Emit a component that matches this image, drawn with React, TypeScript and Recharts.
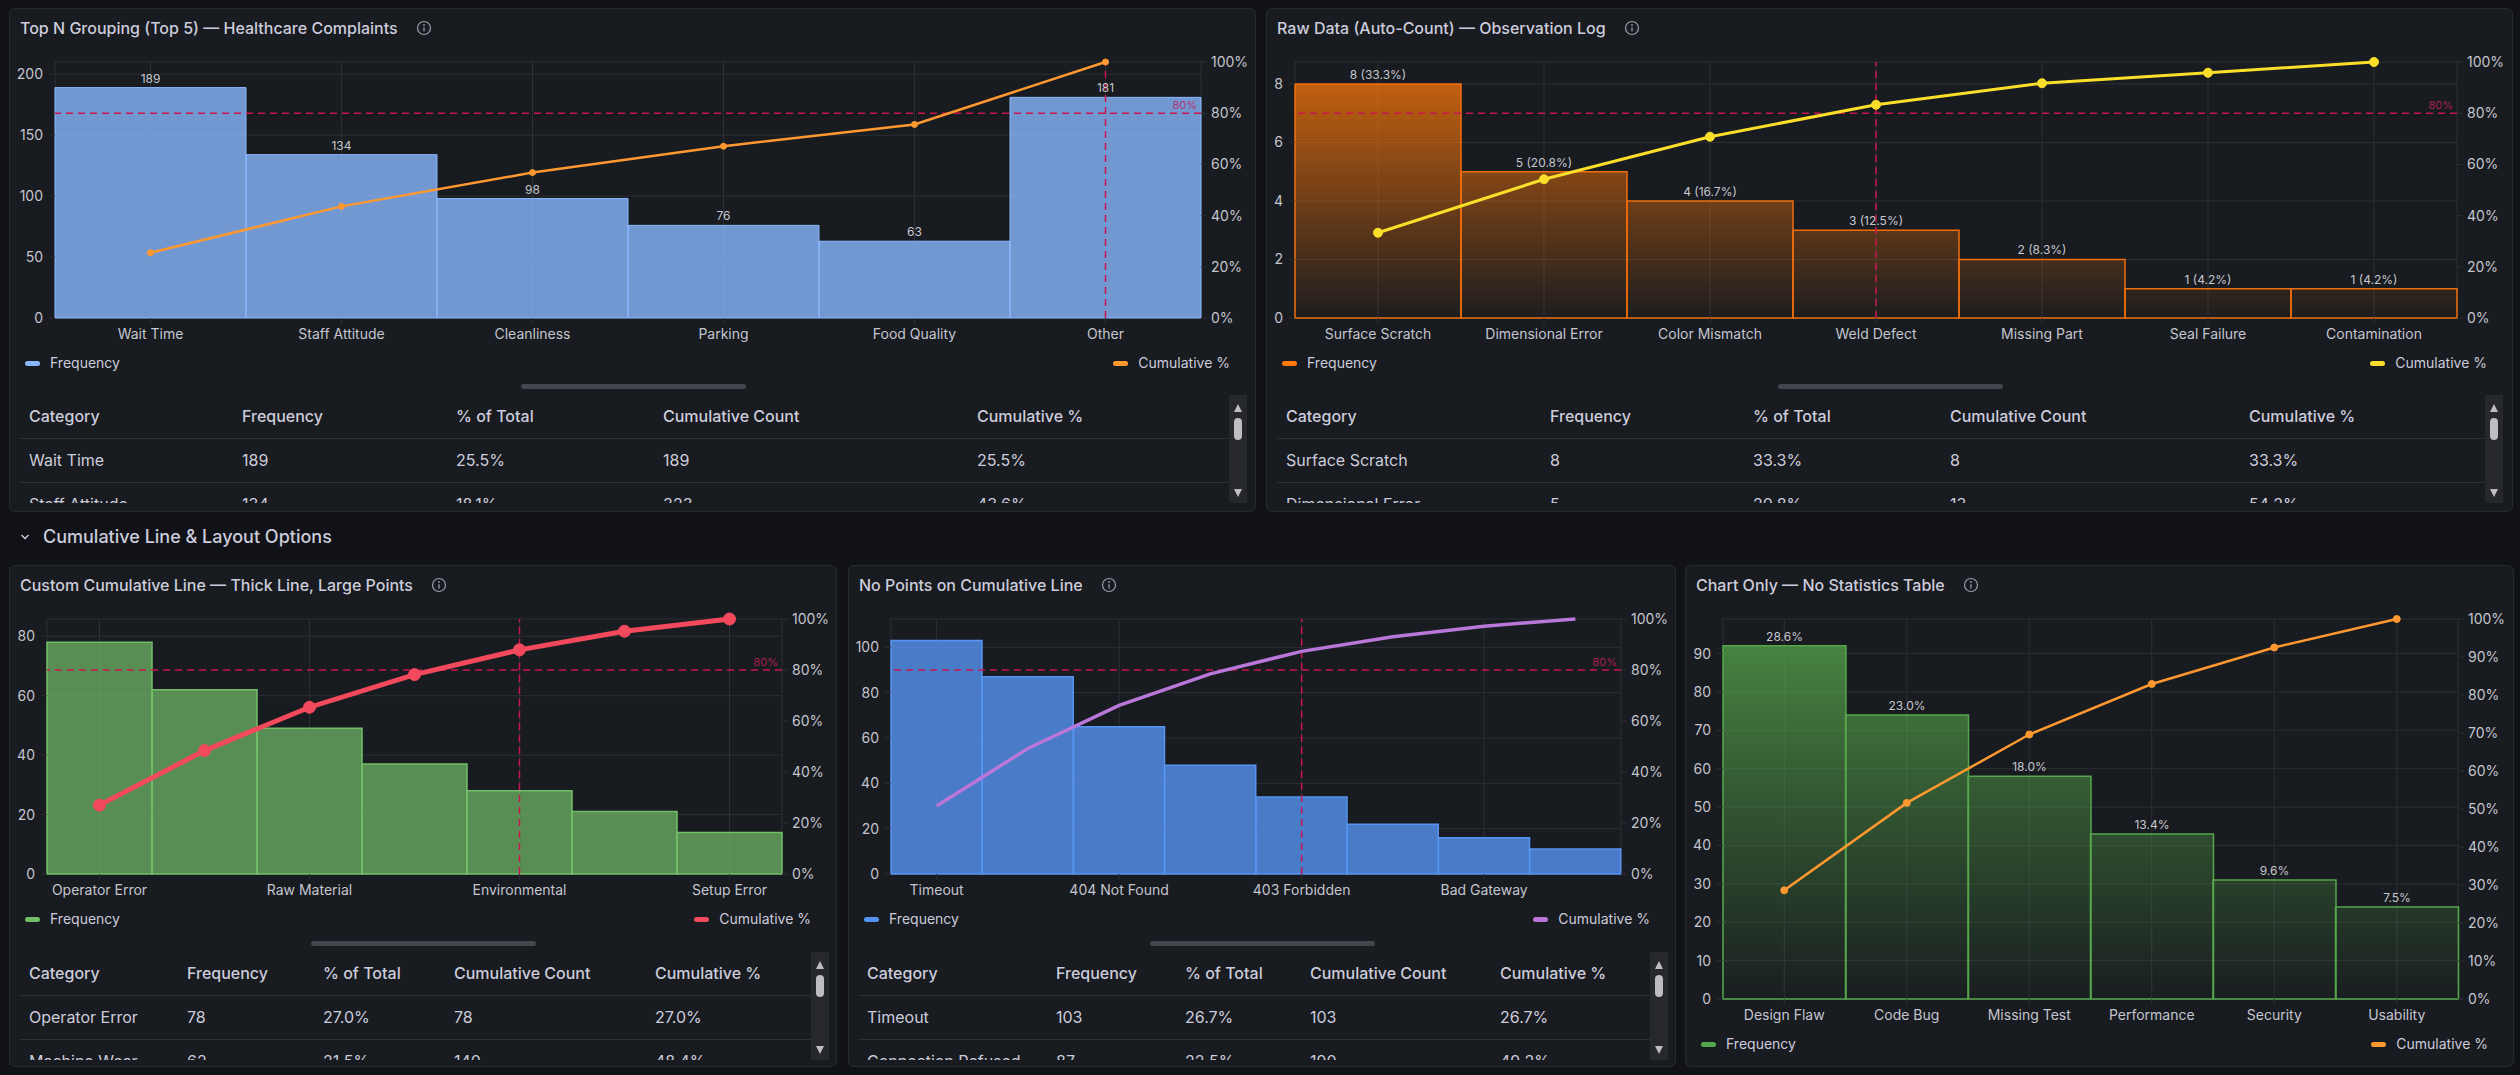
import React from "react"
import { ComposedChart, Bar, Line, XAxis, YAxis, CartesianGrid, ReferenceLine, LabelList } from "recharts"

// --- data ---
const healthCategories = ["Wait Time", "Staff Attitude", "Cleanliness", "Parking", "Food Quality", "Other"]
const healthFrequency = [189, 134, 98, 76, 63, 181]
const healthCumulative = [25.5, 43.6, 56.8, 67.1, 75.6, 100]
const healthTicks = [0, 50, 100, 150, 200]

const defectCategories = ["Surface Scratch", "Dimensional Error", "Color Mismatch", "Weld Defect", "Missing Part", "Seal Failure", "Contamination"]
const defectFrequency = [8, 5, 4, 3, 2, 1, 1]
const defectCumulative = [33.3, 54.2, 70.8, 83.3, 91.7, 95.8, 100]
const defectTicks = [0, 2, 4, 6, 8]

const causeCategories = ["Operator Error", "Machine Wear", "Raw Material", "Calibration", "Environmental", "Maintenance", "Setup Error"]
const causeFrequency = [78, 62, 49, 37, 28, 21, 14]
const causeCumulative = [27.0, 48.4, 65.4, 78.2, 87.9, 95.2, 100]
const causeTicks = [0, 20, 40, 60, 80]

const errorCategories = ["Timeout", "Connection Refused", "404 Not Found", "500 Server Error", "403 Forbidden", "DNS Failure", "Bad Gateway", "SSL Handshake"]
const errorFrequency = [103, 87, 65, 48, 34, 22, 16, 11]
const errorCumulative = [26.7, 49.2, 66.1, 78.5, 87.3, 93.0, 97.2, 100]
const errorTicks = [0, 20, 40, 60, 80, 100]

const bugCategories = ["Design Flaw", "Code Bug", "Missing Test", "Performance", "Security", "Usability"]
const bugFrequency = [92, 74, 58, 43, 31, 24]
const bugCumulative = [28.6, 51.6, 69.6, 82.9, 92.5, 100]
const bugTicks = [0, 10, 20, 30, 40, 50, 60, 70, 80, 90]

const pctTicks = [0, 20, 40, 60, 80, 100]
const pctTicksFine = [0, 10, 20, 30, 40, 50, 60, 70, 80, 90, 100]

const tableHeaders = ["Category", "Frequency", "% of Total", "Cumulative Count", "Cumulative %"]
// only the rows that show through the table's scroll window
const visibleRows = 2

// --- theme ---
const TEXT = "#ccccdc"
const TICK = "#c4c5cf"
const GRID = "#2c2f35"
const PANEL_BG = "#181b1f"
const PANEL_BORDER = "#272a31"
const REF = "#c8174f"

type LabelMode = "none" | "value" | "valuePct" | "pct"

type ParetoProps = {
  id: string
  categories: string[]
  frequency: number[]
  cumulative: number[]
  freqTicks: number[]
  freqMax: number
  rightTicks: number[]
  width: number
  height: number
  top: number
  leftWidth: number
  rightWidth: number
  barColor: string
  barOpacity: number
  barStroke: string
  barStrokeWidth: number
  gradient?: boolean
  lineColor: string
  lineWidth: number
  dotR: number
  labels: LabelMode
  interval: number
  refs: boolean
}

function ParetoChart(p: ParetoProps) {
  const total = p.frequency.reduce((a, b) => a + b, 0)
  const data = p.categories.map((name, i) => {
    const pct = ((p.frequency[i] / total) * 100).toFixed(1)
    let label = ""
    if (p.labels === "value") label = String(p.frequency[i])
    if (p.labels === "valuePct") label = `${p.frequency[i]} (${pct}%)`
    if (p.labels === "pct") label = `${pct}%`
    return { name, freq: p.frequency[i], cum: p.cumulative[i], label }
  })
  const cross = p.categories[p.cumulative.findIndex((c) => c >= 80)]
  const plotBottom = p.height - 30
  const fill = p.gradient ? `url(#${p.id}-grad)` : p.barColor
  const tick = { fill: TICK, fontSize: 14 }

  return (
    <ComposedChart
      width={p.width}
      height={p.height}
      data={data}
      margin={{ top: p.top, right: 0, bottom: 0, left: 0 }}
      barCategoryGap={0}
      barGap={0}
    >
      <defs>
        <linearGradient id={`${p.id}-grad`} gradientUnits="userSpaceOnUse" x1="0" y1={p.top} x2="0" y2={plotBottom}>
          <stop offset="0%" stopColor={p.barColor} stopOpacity={0.8} />
          <stop offset="100%" stopColor={p.barColor} stopOpacity={0.02} />
        </linearGradient>
      </defs>
      <CartesianGrid yAxisId="left" stroke={GRID} />
      <XAxis
        dataKey="name"
        interval={p.interval}
        height={30}
        tick={tick}
        tickSize={6}
        tickMargin={5}
        axisLine={false}
        tickLine={{ stroke: GRID }}
      />
      <YAxis
        yAxisId="left"
        width={p.leftWidth}
        domain={[0, p.freqMax]}
        ticks={p.freqTicks}
        tick={tick}
        tickSize={6}
        tickMargin={6}
        axisLine={false}
        tickLine={{ stroke: GRID }}
      />
      <YAxis
        yAxisId="right"
        orientation="right"
        width={p.rightWidth}
        domain={[0, 100]}
        ticks={p.rightTicks}
        tickFormatter={(v) => `${v}%`}
        tick={tick}
        tickSize={6}
        tickMargin={4}
        axisLine={false}
        tickLine={{ stroke: GRID }}
      />
      <Bar
        yAxisId="left"
        dataKey="freq"
        fill={fill}
        fillOpacity={p.gradient ? 1 : p.barOpacity}
        stroke={p.barStroke}
        strokeWidth={p.barStrokeWidth}
        isAnimationActive={false}
      >
        {p.labels !== "none" && (
          <LabelList dataKey="label" position="top" offset={5} fill="#c6c7d0" fontSize={12} />
        )}
      </Bar>
      {p.refs && (
        <ReferenceLine
          yAxisId="right"
          y={80}
          stroke={REF}
          strokeWidth={1.5}
          strokeDasharray="7 5"
          label={{ value: "80%", position: "insideBottomRight", offset: 4, fill: "#c0205e", fillOpacity: 0.85, fontSize: 11 }}
        />
      )}
      {p.refs && (
        <ReferenceLine yAxisId="left" x={cross} stroke={REF} strokeWidth={1.5} strokeDasharray="7 5" />
      )}
      <Line
        yAxisId="right"
        type="linear"
        dataKey="cum"
        stroke={p.lineColor}
        strokeWidth={p.lineWidth}
        dot={p.dotR > 0 ? { r: p.dotR, fill: p.lineColor, stroke: p.lineColor, strokeWidth: 1 } : false}
        activeDot={false}
        isAnimationActive={false}
      />
    </ComposedChart>
  )
}

function InfoIcon() {
  return (
    <svg width="16" height="16" viewBox="0 0 16 16" style={{ marginLeft: 18 }}>
      <circle cx="8" cy="8" r="6.5" fill="none" stroke="#9a9aa8" strokeWidth="1.2" />
      <circle cx="8" cy="5" r="0.9" fill="#9a9aa8" />
      <line x1="8" y1="7.2" x2="8" y2="11.4" stroke="#9a9aa8" strokeWidth="1.3" />
    </svg>
  )
}

function Legend({ y, barColor, lineColor }: { y: number; barColor: string; lineColor: string }) {
  const item = (color: string, text: string) => (
    <div style={{ display: "flex", alignItems: "center", fontSize: 14, color: TEXT }}>
      <span style={{ width: 15, height: 5, borderRadius: 3, background: color, marginRight: 10 }} />
      {text}
    </div>
  )
  return (
    <>
      <div style={{ position: "absolute", left: 15, top: y - 9, lineHeight: "18px" }}>{item(barColor, "Frequency")}</div>
      <div style={{ position: "absolute", right: 25, top: y - 9, lineHeight: "18px" }}>{item(lineColor, "Cumulative %")}</div>
    </>
  )
}

function StatsTable({
  left,
  width,
  categories,
  frequency,
  cumulative,
  cols,
}: {
  left: number
  width: number
  categories: string[]
  frequency: number[]
  cumulative: number[]
  cols: number[]
}) {
  const total = frequency.reduce((a, b) => a + b, 0)
  let running = 0
  const rows = categories.map((c, i) => {
    running += frequency[i]
    return [c, String(frequency[i]), `${((frequency[i] / total) * 100).toFixed(1)}%`, String(running), `${cumulative[i].toFixed(1)}%`]
  })
  const cell: React.CSSProperties = { paddingLeft: 9, textAlign: "left", whiteSpace: "nowrap", borderBottom: `1px solid ${GRID}` }
  return (
    <>
      {/* drag handle */}
      <div
        style={{
          position: "absolute",
          left: "50%",
          marginLeft: -112,
          top: 375,
          width: 225,
          height: 5,
          borderRadius: 3,
          background: "#43464d",
        }}
      />
      <div style={{ position: "absolute", left, top: 386, width, height: 108, overflow: "hidden" }}>
        <table style={{ borderCollapse: "collapse", tableLayout: "fixed", width: cols.reduce((a, b) => a + b, 0), fontSize: 16, color: TEXT }}>
          <colgroup>
            {cols.map((w, i) => (
              <col key={i} style={{ width: w }} />
            ))}
          </colgroup>
          <thead>
            <tr style={{ height: 43 }}>
              {tableHeaders.map((h) => (
                <th key={h} style={{ ...cell, fontWeight: 500 }}>
                  {h}
                </th>
              ))}
            </tr>
          </thead>
          <tbody>
            {rows.slice(0, visibleRows).map((r, i) => (
              <tr key={i} style={{ height: 44 }}>
                {r.map((v, j) => (
                  <td key={j} style={cell}>
                    {v}
                  </td>
                ))}
              </tr>
            ))}
          </tbody>
        </table>
      </div>
      {/* vertical scrollbar */}
      <div style={{ position: "absolute", left: left + width, top: 386, width: 18, height: 108, background: "#26282d" }}>
        <svg width="18" height="108" style={{ display: "block" }}>
          <polygon points="9,9 5,17 13,17" fill="#bdbdc2" />
          <rect x="5" y="23" width="8" height="22" rx="4" fill="#bdbdc2" />
          <polygon points="9,102 5,94 13,94" fill="#bdbdc2" />
        </svg>
      </div>
    </>
  )
}

function Panel({
  left,
  top,
  width,
  height,
  title,
  children,
}: {
  left: number
  top: number
  width: number
  height: number
  title: string
  children: React.ReactNode
}) {
  return (
    <div
      style={{
        position: "absolute",
        left,
        top,
        width,
        height,
        boxSizing: "border-box",
        background: PANEL_BG,
        border: `1px solid ${PANEL_BORDER}`,
        borderRadius: 6,
        overflow: "hidden",
      }}
    >
      <div
        style={{
          position: "absolute",
          left: 10,
          top: 8,
          height: 22,
          display: "flex",
          alignItems: "center",
          fontSize: 16,
          fontWeight: 500,
          color: TEXT,
          whiteSpace: "nowrap",
        }}
      >
        {title}
        <InfoIcon />
      </div>
      {children}
    </div>
  )
}

function ChartBox({ children }: { children: React.ReactNode }) {
  return <div style={{ position: "absolute", left: -1, top: 39 }}>{children}</div>
}

export default function App() {
  return (
    <div
      style={{
        position: "relative",
        width: 2520,
        height: 1075,
        background: "#111217",
        fontFamily: "Inter, 'Noto Sans', sans-serif",
        overflow: "hidden",
      }}
    >
      <style>{"html,body{margin:0;padding:0;background:#111217;}"}</style>

      <Panel left={9} top={8} width={1247} height={504} title="Top N Grouping (Top 5) — Healthcare Complaints">
        <ChartBox>
          <ParetoChart
            id="c1"
            categories={healthCategories}
            frequency={healthFrequency}
            cumulative={healthCumulative}
            freqTicks={healthTicks}
            freqMax={210}
            rightTicks={pctTicks}
            width={1247}
            height={300}
            top={14}
            leftWidth={46}
            rightWidth={55}
            barColor="#8ab8ff"
            barOpacity={0.8}
            barStroke="#8ab8ff"
            barStrokeWidth={1}
            lineColor="#ff9830"
            lineWidth={2.5}
            dotR={3}
            labels="value"
            interval={0}
            refs
          />
        </ChartBox>
        <Legend y={354} barColor="#8ab8ff" lineColor="#ff9830" />
        <StatsTable
          left={10}
          width={1209}
          categories={healthCategories}
          frequency={healthFrequency}
          cumulative={healthCumulative}
          cols={[213, 214, 207, 314, 261]}
        />
      </Panel>

      <Panel left={1266} top={8} width={1247} height={504} title="Raw Data (Auto-Count) — Observation Log">
        <ChartBox>
          <ParetoChart
            id="c2"
            categories={defectCategories}
            frequency={defectFrequency}
            cumulative={defectCumulative}
            freqTicks={defectTicks}
            freqMax={8.75}
            rightTicks={pctTicks}
            width={1247}
            height={300}
            top={14}
            leftWidth={29}
            rightWidth={56}
            barColor="#ff780a"
            barOpacity={1}
            barStroke="#f06e0c"
            barStrokeWidth={1.5}
            gradient
            lineColor="#fade2a"
            lineWidth={3}
            dotR={4.5}
            labels="valuePct"
            interval={0}
            refs
          />
        </ChartBox>
        <Legend y={354} barColor="#ff780a" lineColor="#fade2a" />
        <StatsTable
          left={10}
          width={1208}
          categories={defectCategories}
          frequency={defectFrequency}
          cumulative={defectCumulative}
          cols={[264, 203, 197, 299, 245]}
        />
      </Panel>

      <div style={{ position: "absolute", left: 20, top: 526, display: "flex", alignItems: "center", color: TEXT }}>
        <svg width="10" height="10" viewBox="0 0 10 10">
          <polyline points="1.5,3 5,6.5 8.5,3" fill="none" stroke={TEXT} strokeWidth="1.4" />
        </svg>
        <span style={{ marginLeft: 13, fontSize: 18, fontWeight: 500, lineHeight: "22px" }}>Cumulative Line &amp; Layout Options</span>
      </div>

      <Panel left={9} top={565} width={828} height={502} title="Custom Cumulative Line — Thick Line, Large Points">
        <ChartBox>
          <ParetoChart
            id="c3"
            categories={causeCategories}
            frequency={causeFrequency}
            cumulative={causeCumulative}
            freqTicks={causeTicks}
            freqMax={85.8}
            rightTicks={pctTicks}
            width={828}
            height={299}
            top={14}
            leftWidth={38}
            rightWidth={55}
            barColor="#73bf69"
            barOpacity={0.7}
            barStroke="#73bf69"
            barStrokeWidth={1.5}
            lineColor="#f2495c"
            lineWidth={5}
            dotR={6}
            labels="none"
            interval={1}
            refs
          />
        </ChartBox>
        <Legend y={353} barColor="#73bf69" lineColor="#f2495c" />
        <StatsTable
          left={10}
          width={791}
          categories={causeCategories}
          frequency={causeFrequency}
          cumulative={causeCumulative}
          cols={[158, 136, 131, 201, 165]}
        />
      </Panel>

      <Panel left={848} top={565} width={828} height={502} title="No Points on Cumulative Line">
        <ChartBox>
          <ParetoChart
            id="c4"
            categories={errorCategories}
            frequency={errorFrequency}
            cumulative={errorCumulative}
            freqTicks={errorTicks}
            freqMax={112.5}
            rightTicks={pctTicks}
            width={828}
            height={299}
            top={14}
            leftWidth={43}
            rightWidth={55}
            barColor="#5794f2"
            barOpacity={0.8}
            barStroke="#5794f2"
            barStrokeWidth={1.5}
            lineColor="#b877d9"
            lineWidth={3.5}
            dotR={0}
            labels="none"
            interval={1}
            refs
          />
        </ChartBox>
        <Legend y={353} barColor="#5794f2" lineColor="#b877d9" />
        <StatsTable
          left={9}
          width={792}
          categories={errorCategories}
          frequency={errorFrequency}
          cumulative={errorCumulative}
          cols={[189, 129, 125, 190, 159]}
        />
      </Panel>

      <Panel left={1685} top={565} width={829} height={502} title="Chart Only — No Statistics Table">
        <ChartBox>
          <ParetoChart
            id="c5"
            categories={bugCategories}
            frequency={bugFrequency}
            cumulative={bugCumulative}
            freqTicks={bugTicks}
            freqMax={99}
            rightTicks={pctTicksFine}
            width={829}
            height={424}
            top={14}
            leftWidth={38}
            rightWidth={56}
            barColor="#56a64b"
            barOpacity={1}
            barStroke="#56a64b"
            barStrokeWidth={1.5}
            gradient
            lineColor="#ff9830"
            lineWidth={2.5}
            dotR={3.5}
            labels="pct"
            interval={0}
            refs={false}
          />
        </ChartBox>
        <Legend y={478} barColor="#56a64b" lineColor="#ff9830" />
      </Panel>
    </div>
  )
}
